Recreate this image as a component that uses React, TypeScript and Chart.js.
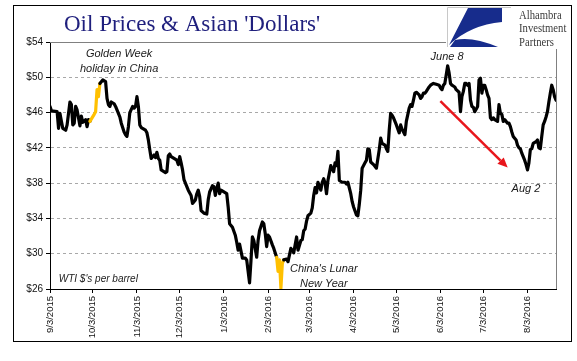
import React, { useEffect, useRef } from "react";
import { Chart, registerables } from "chart.js";

Chart.register(...registerables);

// Days since 9/3/2015 (calendar days) and WTI price ($/bbl)
const dayOffsets = [
  0, 1, 5, 6, 7, 8, 9, 11, 12, 14, 15, 16, 17, 18, 19, 21, 22, 23, 25, 26, 27, 28,
  31, 32, 33, 34, 35, 37, 39, 40, 41, 42, 43, 45, 46, 47, 48, 49, 50, 52, 53, 54, 55,
  56, 58, 59, 60, 61, 62, 63, 64, 67, 68, 69, 70, 71, 73, 74, 75, 76, 77, 78, 81, 82,
  83, 84, 85, 87, 89, 90, 91, 92, 93, 94, 96, 97, 99, 100, 102, 103, 104, 105, 106,
  108, 110, 111, 112, 114, 115, 116, 117, 118, 119, 120, 122, 124, 125, 126, 128,
  130, 131, 132, 133, 135, 137, 138, 139, 140, 141, 142, 143, 145, 146, 147, 149,
  150, 151, 152, 153, 154, 156, 157, 159, 160, 161, 162, 163, 164, 166, 167, 169,
  170, 171, 172, 173, 174, 176, 177, 178, 179, 180, 181, 183, 184, 185, 186, 187,
  188, 190, 191, 192, 193, 194, 195, 197, 198, 199, 200, 201, 202, 203, 205, 207,
  208, 209, 211, 212, 213, 215, 216, 217, 218, 219, 221, 222, 223, 224, 225, 227,
  229, 231, 232, 233, 235, 236, 237, 238, 239, 240, 241, 243, 245, 246, 247, 248,
  249, 250, 252, 253, 254, 255, 256, 257, 259, 260, 261, 262, 263, 264, 266, 267,
  269, 271, 273, 274, 275, 276, 277, 278, 279, 280, 281, 282, 284, 285, 287, 288,
  289, 290, 291, 292, 293, 294, 295, 296, 297, 298, 300, 301, 302, 303, 304, 305,
  306, 307, 308, 309, 310, 311, 312, 314, 315, 316, 317, 318, 319, 321, 322, 323,
  324, 325, 327, 328, 329, 330, 331, 332, 333, 334, 335, 336, 337, 338, 339, 341,
  342, 343, 344, 345, 346, 347, 348, 349, 350, 351, 352, 353, 354, 355,
];

const wtiPrices = [
  46.7, 46.2, 46.1, 44.2, 45.9, 45.0, 44.2, 44.0, 44.6, 47.2, 46.9, 44.6, 44.8, 46.7, 46.3, 44.5, 45.6, 44.9, 45.2, 44.4, 45.2, 45.0,
  45.8, 46.1, 48.6, 47.8, 49.3, 49.7, 49.5, 47.6, 46.9, 46.7, 47.2, 47.0, 46.7, 46.3, 45.9, 45.5, 44.8, 43.8, 43.5, 43.3, 44.4,
  46.0, 46.7, 46.5, 46.7, 47.8, 46.7, 44.6, 44.3, 44.0, 43.7, 42.9, 41.8, 40.8, 41.2, 40.9, 41.5, 40.8, 40.6, 39.5, 39.2, 39.3,
  41.1, 41.3, 41.0, 40.8, 40.6, 40.1, 41.0, 40.3, 39.5, 38.4, 37.6, 37.2, 36.6, 35.7, 36.1, 36.8, 37.2, 36.5, 34.9,
  34.6, 34.5, 36.1, 37.0, 37.7, 37.6, 36.6, 37.4, 38.0, 36.8, 37.2, 37.0, 36.8, 35.3, 33.4, 33.0,
  32.1, 31.3, 30.4, 31.1, 29.5, 29.5, 29.3, 28.0, 26.7, 29.2, 31.9, 31.5, 29.6, 31.5, 32.6, 33.6,
  33.4, 32.3, 30.8, 32.1, 31.9, 31.0, 30.6, 29.6, 28.0, 29.3, 26.1, 28.9, 29.3, 29.4, 29.1, 30.6,
  30.4, 30.1, 31.0, 31.9, 30.4, 31.5, 31.6, 32.6, 32.8, 33.7, 34.3, 34.6, 35.2, 36.6, 37.5, 36.9,
  38.1, 37.2, 38.1, 38.5, 38.0, 36.8, 38.3, 40.0, 39.6, 39.3, 40.3, 40.0, 41.6, 38.3, 38.1, 38.1,
  37.9, 38.1, 36.8, 35.9, 35.3, 34.4, 34.3, 35.6, 37.2, 39.7, 40.3, 40.6, 41.9, 41.8, 40.4, 40.1,
  39.7, 41.8, 43.1, 42.5, 42.3, 41.9, 41.6, 44.0, 45.9, 45.7, 45.4, 44.6, 43.7, 44.6, 44.1, 43.8,
  43.5, 45.0, 46.5, 46.9, 46.7, 47.4, 48.2, 48.3, 48.0, 47.6, 47.8, 48.2, 48.2, 48.4, 48.9, 49.1,
  49.3, 49.2, 49.1, 48.8, 48.6, 49.1, 49.3, 50.3, 51.3, 50.5, 49.3, 49.1, 48.9, 48.6, 48.3, 46.1,
  47.8, 48.4, 49.3, 49.3, 49.1, 49.3, 47.4, 46.7, 46.6, 46.1, 46.7, 49.7, 49.9, 48.2, 49.1, 49.1,
  48.6, 48.0, 47.6, 45.4, 45.2, 45.4, 45.2, 45.0, 46.9, 45.9, 45.8, 45.0, 45.2, 44.8, 44.8, 44.4,
  43.8, 43.3, 42.9, 42.3, 42.0, 41.9, 41.4, 41.0, 40.6, 40.1, 39.5, 40.3, 41.8, 41.9, 42.5, 42.7,
  42.9, 42.0, 41.9, 43.3, 44.6, 45.0, 45.5, 46.1, 47.2, 48.2, 49.1, 48.6, 47.8, 47.4,
];

// Holiday periods (day offsets) highlighted in gold
const goldenWeek = [28, 35];
const lunarNewYear = [159, 164];

const tickDays = [0, 30, 61, 91, 122, 153, 182, 213, 243, 274, 304, 335];
const tickLabels = [
  "9/3/2015", "10/3/2015", "11/3/2015", "12/3/2015", "1/3/2016", "2/3/2016",
  "3/3/2016", "4/3/2016", "5/3/2016", "6/3/2016", "7/3/2016", "8/3/2016",
];
const yTickValues = [26, 30, 34, 38, 42, 46, 50, 54];

const titleText = "Oil Prices & Asian 'Dollars'";
const logoLines = ["Alhambra", "Investment", "Partners"];

// Text annotations anchored in data coordinates
const notes = [
  { text: "Golden Week", x: 48.5, y: 52.6, size: 11 },
  { text: "holiday in China", x: 48.5, y: 50.9, size: 11 },
  { text: "June 8", x: 278.6, y: 52.3, size: 11 },
  { text: "Aug 2", x: 333.9, y: 37.3, size: 11 },
  { text: "China's Lunar", x: 192.1, y: 28.25, size: 11 },
  { text: "New Year", x: 192.1, y: 26.6, size: 11 },
  { text: "WTI $'s per barrel", x: 33.9, y: 27.15, size: 10 },
];
const arrowFrom = { x: 273.9, y: 47.3 };
const arrowTo = { x: 321.1, y: 39.76 };

const BLACK = "#000000";
const GOLD = "#FFC000";

const inRange = (a: number, b: number, r: number[]) => a >= r[0] && b <= r[1];

const overlayPlugin = {
  id: "overlay",
  beforeDraw(chart: any) {
    const { ctx, width, height } = chart;
    ctx.save();
    ctx.fillStyle = "#ffffff";
    ctx.fillRect(0, 0, width, height);
    ctx.restore();
  },
  beforeDatasetsDraw(chart: any) {
    const { ctx, chartArea: a } = chart;
    ctx.save();
    ctx.strokeStyle = "#808080";
    ctx.lineWidth = 1;
    ctx.beginPath();
    ctx.moveTo(a.left, Math.round(a.top) + 0.5);
    ctx.lineTo(Math.round(a.right) + 0.5, Math.round(a.top) + 0.5);
    ctx.lineTo(Math.round(a.right) + 0.5, a.bottom);
    ctx.stroke();
    ctx.restore();
  },
  afterDraw(chart: any) {
    const { ctx } = chart;
    const xs = chart.scales.x;
    const ys = chart.scales.y;
    ctx.save();

    // annotations
    ctx.fillStyle = "#1a1a1a";
    ctx.textAlign = "center";
    ctx.textBaseline = "middle";
    notes.forEach((n) => {
      ctx.font = `italic ${n.size}px "Liberation Sans", Arial, sans-serif`;
      ctx.fillText(n.text, xs.getPixelForValue(n.x), ys.getPixelForValue(n.y));
    });

    // red arrow
    const x1 = xs.getPixelForValue(arrowFrom.x);
    const y1 = ys.getPixelForValue(arrowFrom.y);
    const x2 = xs.getPixelForValue(arrowTo.x);
    const y2 = ys.getPixelForValue(arrowTo.y);
    const ang = Math.atan2(y2 - y1, x2 - x1);
    const hl = 10;
    const hw = 4.5;
    const bx = x2 - hl * Math.cos(ang);
    const by = y2 - hl * Math.sin(ang);
    ctx.strokeStyle = "#e8161c";
    ctx.fillStyle = "#e8161c";
    ctx.lineWidth = 2.5;
    ctx.beginPath();
    ctx.moveTo(x1, y1);
    ctx.lineTo(bx, by);
    ctx.stroke();
    ctx.beginPath();
    ctx.moveTo(x2, y2);
    ctx.lineTo(bx + hw * Math.sin(ang), by - hw * Math.cos(ang));
    ctx.lineTo(bx - hw * Math.sin(ang), by + hw * Math.cos(ang));
    ctx.closePath();
    ctx.fill();

    // title
    ctx.fillStyle = "#1f1f7d";
    ctx.font = `23px "Liberation Serif", "Times New Roman", serif`;
    ctx.textAlign = "left";
    ctx.textBaseline = "alphabetic";
    ctx.fillText(titleText, 64, 31);

    // logo area
    ctx.fillStyle = "#ffffff";
    ctx.fillRect(446, 6, 125, 43);
    ctx.strokeStyle = "#c8c8c8";
    ctx.lineWidth = 1;
    ctx.beginPath();
    ctx.moveTo(447.5, 47);
    ctx.lineTo(447.5, 7.5);
    ctx.lineTo(511, 7.5);
    ctx.stroke();
    ctx.fillStyle = "#172c8c";
    ctx.beginPath();
    ctx.moveTo(468, 8);
    ctx.lineTo(502, 8);
    ctx.lineTo(502, 22);
    ctx.quadraticCurveTo(470, 25, 449, 45);
    ctx.closePath();
    ctx.fill();
    ctx.beginPath();
    ctx.moveTo(450, 47);
    ctx.lineTo(498, 47);
    ctx.quadraticCurveTo(472, 36, 455, 40);
    ctx.closePath();
    ctx.fill();
    ctx.fillStyle = "#3a3a3a";
    ctx.font = `13px "Liberation Serif", "Times New Roman", serif`;
    ctx.save();
    ctx.translate(519, 0);
    ctx.scale(0.82, 1);
    ctx.fillText(logoLines[0], 0, 19);
    ctx.fillText(logoLines[1], 0, 32);
    ctx.fillText(logoLines[2], 0, 45.5);
    ctx.restore();

    // outer frame
    ctx.strokeStyle = "#000000";
    ctx.lineWidth = 1;
    ctx.strokeRect(13.5, 5.5, 558, 336);
    ctx.restore();
  },
};

export default function App() {
  const ref = useRef<HTMLCanvasElement | null>(null);

  useEffect(() => {
    if (!ref.current) return;
    const points = dayOffsets.map((d, i) => ({ x: d, y: wtiPrices[i] }));
    const chart = new Chart(ref.current, {
      type: "line",
      data: {
        datasets: [
          {
            label: "WTI",
            data: points,
            borderColor: BLACK,
            borderWidth: 3.2,
            borderJoinStyle: "round",
            borderCapStyle: "round",
            pointRadius: 0,
            tension: 0,
            segment: {
              borderColor: (c: any) =>
                inRange(c.p0.parsed.x, c.p1.parsed.x, goldenWeek) ||
                inRange(c.p0.parsed.x, c.p1.parsed.x, lunarNewYear)
                  ? GOLD
                  : BLACK,
            },
          },
        ],
      },
      options: {
        responsive: false,
        animation: false,
        devicePixelRatio: 1,
        layout: { padding: { left: 0, right: 21, top: 42, bottom: 0 } },
        plugins: {
          legend: { display: false },
          tooltip: { enabled: false },
          title: { display: false },
        },
        scales: {
          x: {
            type: "linear",
            min: 0,
            max: 355,
            afterBuildTicks: (axis: any) => {
              axis.ticks = tickDays.map((v) => ({ value: v }));
            },
            afterFit: (s: any) => {
              s.height = 72;
            },
            grid: {
              drawOnChartArea: false,
              drawTicks: true,
              tickLength: 4,
              tickColor: "#000",
            },
            border: { display: true, color: "#000", width: 1 },
            ticks: {
              autoSkip: false,
              minRotation: 90,
              maxRotation: 90,
              padding: 3,
              color: "#111",
              font: { family: '"Liberation Sans", Arial, sans-serif', size: 9.5 },
              callback: (_v: any, i: number) => tickLabels[i],
            },
          },
          y: {
            type: "linear",
            min: 26,
            max: 54,
            afterBuildTicks: (axis: any) => {
              axis.ticks = yTickValues.map((v) => ({ value: v }));
            },
            afterFit: (s: any) => {
              s.width = 50;
            },
            grid: {
              color: (c: any) =>
                c.tick && (c.tick.value === 26 || c.tick.value === 54) ? "rgba(0,0,0,0)" : "#a8a8a8",
              lineWidth: 1,
              drawTicks: true,
              tickLength: 4,
              tickColor: "#000",
            },
            border: { display: true, color: "#000", width: 1, dash: [3, 3] },
            ticks: {
              padding: 3,
              color: "#111",
              font: { family: '"Liberation Sans", Arial, sans-serif', size: 10 },
              callback: (v: any) => "$" + v,
            },
          },
        },
      },
      plugins: [overlayPlugin],
    });
    return () => chart.destroy();
  }, []);

  return (
    <div style={{ position: "absolute", left: 0, top: 0, width: 577, height: 361, background: "#fff" }}>
      <canvas ref={ref} width={577} height={361} />
    </div>
  );
}
